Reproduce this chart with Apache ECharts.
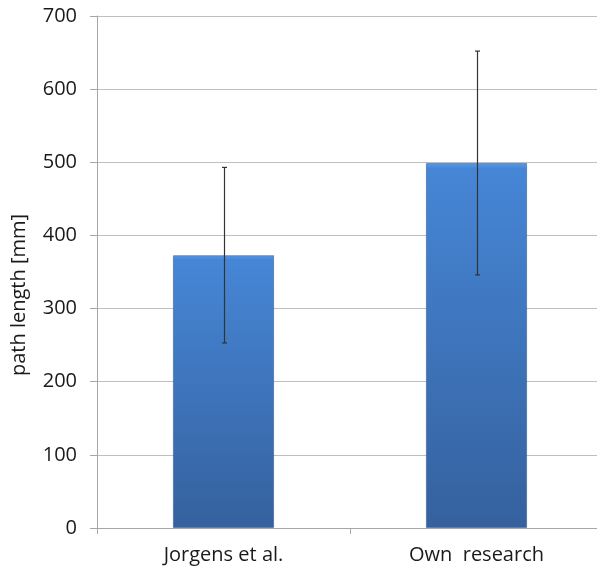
<!DOCTYPE html>
<html>
<head>
<meta charset="utf-8">
<script src="https://cdn.jsdelivr.net/npm/echarts@6/dist/echarts.min.js"></script>
<style>html,body{margin:0;padding:0;background:#fff}#c{width:597px;height:573px}</style>
</head>
<body>
<div id="c"></div>
<script>
var categories = ['Jorgens et al.', 'Own  research'];
var values = [373, 499];
var errLow = [253, 346];
var errHigh = [493, 652];
var yTicks = [0, 100, 200, 300, 400, 500, 600, 700];
var yTitle = 'path length [mm]';

var chart = echarts.init(document.getElementById('c'), null, {renderer: 'canvas'});
var font = '"Open Sans", sans-serif';
chart.setOption({
  animation: false,
  grid: {left: 97, right: -6, top: 16, bottom: 45, containLabel: false, outerBoundsMode: 'none'},
  graphic: [{
    type: 'text', x: 19, y: 295, rotation: Math.PI / 2,
    style: {text: yTitle, fill: '#1a1a1a', font: '20px "Open Sans", sans-serif', align: 'center', verticalAlign: 'middle'}
  }],
  xAxis: {
    type: 'category', data: categories,
    axisLine: {lineStyle: {color: '#a6a6a6', width: 1}},
    axisTick: {show: true, length: 6, lineStyle: {color: '#a6a6a6'}},
    axisLabel: {color: '#1a1a1a', fontFamily: font, fontSize: 20, margin: 17}
  },
  yAxis: {
    type: 'value', min: yTicks[0], max: yTicks[yTicks.length - 1], interval: 100,
    axisLine: {show: true, lineStyle: {color: '#a6a6a6', width: 1}},
    axisTick: {show: true, length: 7, lineStyle: {color: '#a6a6a6'}},
    axisLabel: {color: '#1a1a1a', fontFamily: font, fontSize: 20, margin: 20},
    splitLine: {lineStyle: {color: '#bfbfbf', width: 1}}
  },
  series: [{
    type: 'bar', data: values, barWidth: '40%',
    itemStyle: {
      color: new echarts.graphic.LinearGradient(0, 0, 0, 1, [
        {offset: 0, color: '#5a9ae6'},
        {offset: 0.015, color: '#4686d6'},
        {offset: 1, color: '#35619e'}
      ]),
      borderColor: 'rgba(40,80,140,0.5)', borderWidth: 1
    }
  }, {
    type: 'custom',
    data: categories.map(function (c, i) { return [i, errLow[i], errHigh[i]]; }),
    renderItem: function (params, api) {
      var lo = api.coord([api.value(0), api.value(1)]);
      var hi = api.coord([api.value(0), api.value(2)]);
      var x = Math.round(lo[0]) + 0.5;
      var style = {stroke: '#333333', lineWidth: 1.2};
      return {type: 'group', children: [
        {type: 'line', shape: {x1: x, y1: lo[1], x2: x, y2: hi[1]}, style: style},
        {type: 'line', shape: {x1: x - 2.5, y1: lo[1], x2: x + 2.5, y2: lo[1]}, style: style},
        {type: 'line', shape: {x1: x - 2.5, y1: hi[1], x2: x + 2.5, y2: hi[1]}, style: style}
      ]};
    },
    z: 5
  }]
});
</script>
</body>
</html>
